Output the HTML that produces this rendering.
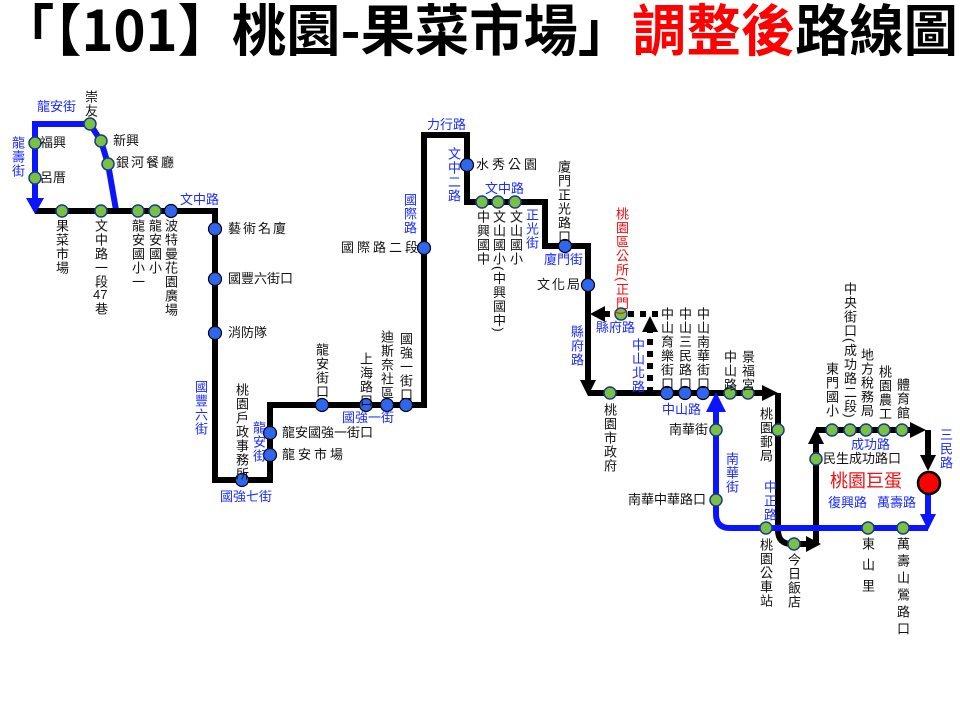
<!DOCTYPE html>
<html><head><meta charset="utf-8"><style>
body{margin:0;background:#fff;width:960px;height:720px;overflow:hidden;position:relative;font-family:"Liberation Sans","Noto Sans CJK TC",sans-serif}
svg{position:absolute;left:0;top:0}
.l{position:absolute;font-size:13px;color:#111;line-height:14px;white-space:nowrap}
.v{writing-mode:vertical-rl;line-height:13px;letter-spacing:1px}
.b{color:#1a2cff}
.r{color:#f01010}
.c{transform:translateY(-7px)}
</style></head><body>
<svg width="960" height="720" viewBox="0 0 960 720">
<text x="0" y="51" font-size="56" textLength="958" lengthAdjust="spacingAndGlyphs" font-family="Noto Sans CJK TC,sans-serif" font-weight="700">「【101】桃園-果菜市場」<tspan fill="#f00">調整後</tspan>路線圖</text>
<g fill="none" stroke-linejoin="miter">
<polyline points="116,210 108,164 101,141 90,124 35,124 35,200" stroke="#0a14ff" stroke-width="6"/>
<polyline points="35,211 215,211 215,480 270,480 270,405 424,405 424,135 467,135 467,202 545,202 545,246 588,246 588,382" stroke="#000" stroke-width="6"/>
<polyline points="588,393 765,393" stroke="#000" stroke-width="6"/>
<path d="M778,393 L778,530 Q778,544 792,544 L806,544" stroke="#000" stroke-width="6"/>
<polyline points="816,544 816,440" stroke="#000" stroke-width="6"/>
<polyline points="816,430 912,430" stroke="#000" stroke-width="6"/>
<polyline points="928,430 928,458" stroke="#000" stroke-width="6"/>
<polyline points="604,314 660,314" stroke="#000" stroke-width="6" stroke-dasharray="6,6"/>
<polyline points="650,393 650,330" stroke="#000" stroke-width="6" stroke-dasharray="6,6"/>
<polyline points="928,494 928,518" stroke="#0a14ff" stroke-width="6"/>
<path d="M928,528 L730,528 Q716,528 716,514 L716,410" stroke="#0a14ff" stroke-width="6"/>
</g>
<g stroke="none">
<polygon points="26,198 44,198 35,214" fill="#0a14ff"/>
<polygon points="580,380 596,380 588,396" fill="#000"/>
<polygon points="762,385 762,401 778,393" fill="#000"/>
<polygon points="806,536 806,552 821,544" fill="#000"/>
<polygon points="808,444 824,444 816,428" fill="#000"/>
<polygon points="910,422 910,438 926,430" fill="#000"/>
<polygon points="920,455 936,455 928,471" fill="#000"/>
<polygon points="920,514 936,514 928,530" fill="#0a14ff"/>
<polygon points="706,412 726,412 716,392" fill="#0a14ff"/>
<polygon points="605,306 605,322 590,314" fill="#000"/>
<polygon points="642,332 658,332 650,316" fill="#000"/>
</g>
<circle cx="929" cy="483" r="11" fill="#f00" stroke="#000" stroke-width="2.5"/>
<g fill="#79c142" stroke="#1b3a8a" stroke-width="1.5">
<circle cx="35" cy="143" r="6"/><circle cx="35" cy="178" r="6"/><circle cx="90" cy="124" r="6"/><circle cx="101" cy="141" r="6"/><circle cx="108" cy="164" r="6"/>
<circle cx="62" cy="211" r="6"/><circle cx="101" cy="211" r="6"/><circle cx="138" cy="211" r="6"/><circle cx="155" cy="211" r="6"/>
<circle cx="482" cy="202" r="6"/><circle cx="498" cy="202" r="6"/><circle cx="515" cy="202" r="6"/>
<circle cx="621" cy="314" r="6"/><circle cx="610" cy="393" r="6"/><circle cx="730" cy="393" r="6"/><circle cx="748" cy="393" r="6"/>
<circle cx="778" cy="430" r="6"/><circle cx="716" cy="430" r="6"/><circle cx="716" cy="500" r="6"/><circle cx="766" cy="528" r="6"/><circle cx="794" cy="544" r="6"/>
<circle cx="816" cy="459" r="6"/><circle cx="832" cy="430" r="6"/><circle cx="850" cy="430" r="6"/><circle cx="866" cy="430" r="6"/><circle cx="884" cy="430" r="6"/><circle cx="902" cy="430" r="6"/>
<circle cx="868" cy="528" r="6"/><circle cx="903" cy="528" r="6"/>
</g>
<g fill="#2f66f0" stroke="#000" stroke-width="1.2">
<circle cx="171" cy="211" r="6.5"/><circle cx="215" cy="229" r="6.5"/><circle cx="215" cy="279" r="6.5"/><circle cx="215" cy="333" r="6.5"/>
<circle cx="242" cy="480" r="6.5"/><circle cx="270" cy="455" r="6.5"/><circle cx="270" cy="433" r="6.5"/>
<circle cx="322" cy="405" r="6.5"/><circle cx="366" cy="405" r="6.5"/><circle cx="387" cy="405" r="6.5"/><circle cx="406" cy="405" r="6.5"/>
<circle cx="424" cy="248" r="6.5"/><circle cx="467" cy="165" r="6.5"/><circle cx="565" cy="246" r="6.5"/><circle cx="588" cy="285" r="6.5"/>
<circle cx="667" cy="393" r="6.5"/><circle cx="685" cy="393" r="6.5"/><circle cx="703" cy="393" r="6.5"/>
</g>
</svg>
<div class="l b" style="left:37px;top:100px">龍安街</div>
<div class="l v" style="left:84px;top:90px">崇友</div>
<div class="l c" style="left:113px;top:141px">新興</div>
<div class="l c" style="left:116px;top:163px;letter-spacing:2px">銀河餐廳</div>
<div class="l c" style="left:40px;top:143px">福興</div>
<div class="l c" style="left:40px;top:178px">呂厝</div>
<div class="l v b" style="left:11px;top:136px">龍壽街</div>
<div class="l b" style="left:180px;top:193px">文中路</div>
<div class="l v" style="left:55px;top:219px">果菜市場</div>
<div class="l v" style="left:94px;top:219px">文中路一段</div>
<div class="l" style="left:93px;top:288px">47</div>
<div class="l v" style="left:94px;top:302px">巷</div>
<div class="l v" style="left:131px;top:219px">龍安國小一</div>
<div class="l v" style="left:148px;top:219px">龍安國小</div>
<div class="l v" style="left:164px;top:219px">波特曼花園廣場</div>
<div class="l c" style="left:228px;top:229px;letter-spacing:2px">藝術名廈</div>
<div class="l c" style="left:228px;top:279px">國豐六街口</div>
<div class="l c" style="left:228px;top:333px">消防隊</div>
<div class="l v b" style="left:194px;top:380px">國豐六街</div>
<div class="l v" style="left:235px;top:383px">桃園戶政事務所</div>
<div class="l v b" style="left:252px;top:421px">龍安街</div>
<div class="l c" style="left:282px;top:433px">龍安國強一街口</div>
<div class="l c" style="left:282px;top:455px;letter-spacing:3px">龍安市場</div>
<div class="l b" style="left:220px;top:490px">國強七街</div>
<div class="l v" style="left:315px;top:343px">龍安街口</div>
<div class="l v" style="left:359px;top:352px">上海路口</div>
<div class="l v" style="left:380px;top:330px">迪斯奈社區</div>
<div class="l v" style="left:399px;top:332px">國強一街口</div>
<div class="l b" style="left:342px;top:411px">國強一街</div>
<div class="l v b" style="left:403px;top:193px">國際路</div>
<div class="l c" style="left:341px;top:248px;letter-spacing:3px">國際路二段</div>
<div class="l b" style="left:427px;top:118px">力行路</div>
<div class="l v b" style="left:447px;top:147px">文中二路</div>
<div class="l c" style="left:476px;top:165px;letter-spacing:3px">水秀公園</div>
<div class="l b" style="left:485px;top:182px">文中路</div>
<div class="l v" style="left:476px;top:210px">中興國中</div>
<div class="l v" style="left:492px;top:210px">文山國小(中興國中)</div>
<div class="l v" style="left:509px;top:210px">文山國小</div>
<div class="l v b" style="left:525px;top:208px">正光街</div>
<div class="l v" style="left:557px;top:160px">廈門正光路口</div>
<div class="l b" style="left:544px;top:253px">廈門街</div>
<div class="l c" style="left:537px;top:285px;letter-spacing:2px">文化局</div>
<div class="l v r" style="left:615px;top:207px">桃園區公所(正門)</div>
<div class="l b" style="left:596px;top:321px">縣府路</div>
<div class="l v b" style="left:570px;top:325px">縣府路</div>
<div class="l v b" style="left:631px;top:338px">中山北路</div>
<div class="l v" style="left:660px;top:307px">中山育樂街口</div>
<div class="l v" style="left:678px;top:307px">中山三民路口</div>
<div class="l v" style="left:696px;top:307px">中山南華街口</div>
<div class="l v" style="left:723px;top:350px">中山路</div>
<div class="l v" style="left:741px;top:350px">景福宮</div>
<div class="l b" style="left:662px;top:403px">中山路</div>
<div class="l v" style="left:603px;top:403px">桃園市政府</div>
<div class="l c" style="left:669px;top:430px">南華街</div>
<div class="l c" style="left:628px;top:500px">南華中華路口</div>
<div class="l v b" style="left:725px;top:452px">南華街</div>
<div class="l v" style="left:759px;top:407px">桃園郵局</div>
<div class="l v b" style="left:763px;top:480px">中正路</div>
<div class="l v" style="left:759px;top:538px">桃園公車站</div>
<div class="l v" style="left:787px;top:553px">今日飯店</div>
<div class="l v" style="left:825px;top:362px">東門國小</div>
<div class="l v" style="left:843px;top:282px">中央街口(成功路二段)</div>
<div class="l v" style="left:860px;top:348px">地方稅務局</div>
<div class="l v" style="left:878px;top:365px">桃園農工</div>
<div class="l v" style="left:896px;top:378px">體育館</div>
<div class="l b" style="left:851px;top:438px">成功路</div>
<div class="l c" style="left:823px;top:459px">民生成功路口</div>
<div class="l v b" style="left:939px;top:428px">三民路</div>
<div class="l r" style="left:830px;top:471px;font-size:18px;line-height:20px">桃園巨蛋</div>
<div class="l b" style="left:828px;top:496px">復興路</div>
<div class="l b" style="left:877px;top:496px">萬壽路</div>
<div class="l v" style="left:861px;top:537px;letter-spacing:8px">東山里</div>
<div class="l v" style="left:896px;top:537px;letter-spacing:4px">萬壽山鶯路口</div>
</body></html>
